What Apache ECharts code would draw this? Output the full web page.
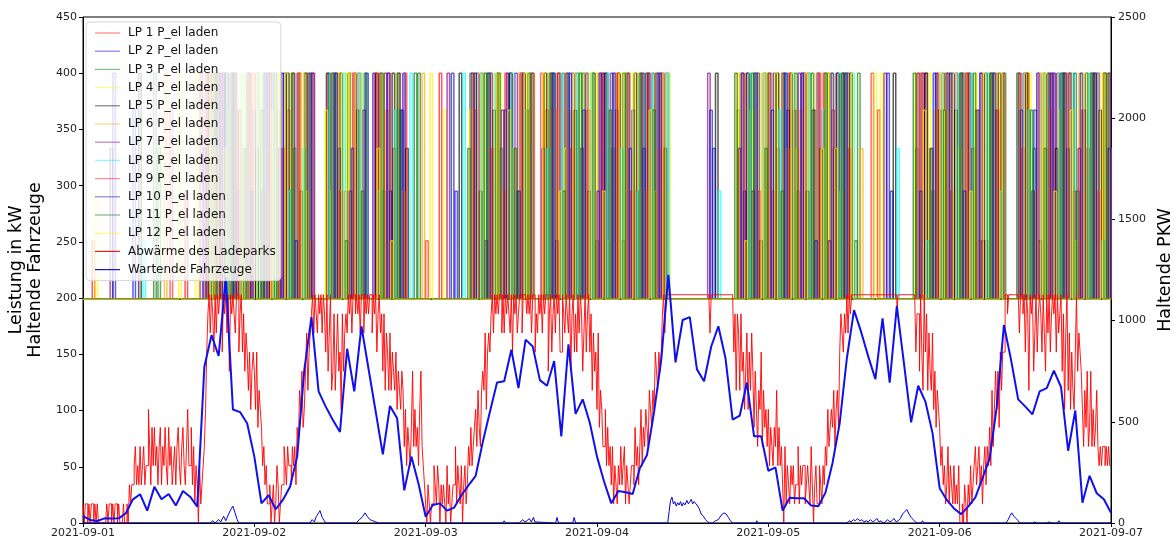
<!DOCTYPE html>
<html>
<head>
<meta charset="utf-8">
<script src="https://cdn.jsdelivr.net/npm/echarts@6.0.0/dist/echarts.min.js"></script>
<style>
  html, body { margin: 0; padding: 0; background: #fff; }
  #chart { width: 1174px; height: 544px; }
</style>
</head>
<body>
<div id="chart"></div>
<script>
// x-Achse: Stunden ab 2021-09-01 00:00
var tagLabels = ['2021-09-01', '2021-09-02', '2021-09-03', '2021-09-04', '2021-09-05', '2021-09-06', '2021-09-07']

var lpNamen = ['LP 1 P_el laden', 'LP 2 P_el laden', 'LP 3 P_el laden', 'LP 4 P_el laden',
  'LP 5 P_el laden', 'LP 6 P_el laden', 'LP 7 P_el laden', 'LP 8 P_el laden',
  'LP 9 P_el laden', 'LP 10 P_el laden', 'LP 11 P_el laden', 'LP 12 P_el laden']
var lpFarben = ['#ff0000', '#0000ff', '#008000', '#ffff00', '#000000', '#ffa500',
  '#800080', '#00ffff', '#ff2020', '#1010c0', '#107010', '#ffee00']

// Grundwert der Ladepunkte in kW, Spitzen als [Stunde, kW]
var lpBasis = 199
var spitzenDauer = 0.35
var lp1 = [[1.3,251],[14.3,295],[20.0,400],[24.2,400],[28.6,367],[34.3,400],[38.5,400],[43.4,333],[49.9,400],[55.6,400],[59.8,400],[64.8,367],[69.0,400],[73.2,400],[77.4,295],[81.6,400],[93.0,400],[97.2,333],[101.4,400],[105.6,400],[111.3,367],[118.0,400],[122.2,400],[126.4,251],[132.2,400],[136.4,400],[140.6,333],
  [18.1,400],[22.4,333],[26.7,400],[31.0,400],[36.6,295],[41.5,400],[57.9,400],[62.1,367],[67.1,400],[71.3,400],[75.5,251],[79.7,400],[95.3,400],[99.5,367],[103.7,400],[120.3,400],[124.5,333],[128.7,400],[134.5,400],[138.7,295],[142.9,400]]
var lp2 = [[7.0,367],[17.2,400],[21.5,295],[25.8,400],[30.0,400],[35.7,333],[40.6,400],[44.8,400],[52.1,295],[57.0,400],[61.2,400],[66.2,251],[70.4,400],[74.6,367],[78.8,400],[88.2,333],[94.4,400],[98.6,367],[102.8,400],[107.0,400],[113.1,295],[119.4,400],[123.6,400],[127.8,367],[133.6,400],[137.8,333],[142.0,400],
  [19.5,400],[23.8,367],[28.1,400],[38.0,400],[42.9,295],[55.1,400],[59.3,400],[64.3,333],[68.5,400],[72.7,400],[76.9,367],[81.1,400],[92.5,295],[96.7,400],[100.9,400],[105.1,333],[117.5,400],[121.7,400],[125.9,251],[131.7,400],[135.9,400],[140.1,367]]
var lp3 = [[10.5,333],[18.6,400],[22.9,400],[27.2,367],[31.5,400],[37.1,400],[42.0,295],[46.9,400],[54.2,400],[58.4,333],[62.6,400],[67.6,400],[71.8,251],[76.0,400],[80.2,400],[91.6,367],[95.8,400],[100.0,295],[104.2,400],[108.5,400],[116.6,333],[120.8,400],[125.0,367],[130.8,400],[135.0,400],[139.2,295],[143.4,400],
  [21.0,400],[25.2,400],[29.5,333],[35.2,400],[39.4,400],[44.3,367],[56.5,400],[60.7,295],[65.7,400],[69.9,400],[74.1,333],[78.3,400],[93.9,400],[98.1,400],[102.3,367],[106.5,400],[118.9,295],[123.1,400],[127.3,400],[133.1,333],[137.3,400],[141.5,400]]
var lp4 = [[1.7,295],[15.8,400],[20.4,367],[24.7,400],[29.0,400],[34.6,295],[38.8,400],[43.8,400],[50.5,367],[56.0,400],[60.2,333],[65.1,400],[69.3,400],[73.5,251],[77.7,400],[81.9,400],[93.4,367],[97.6,400],[101.8,400],[106.0,295],[111.7,400],[118.4,400],[122.6,333],[126.8,400],[132.5,400],[136.7,367],[140.9,400],
  [18.5,333],[22.7,400],[27.0,400],[31.3,295],[36.9,400],[41.9,400],[54.1,367],[58.3,400],[62.5,400],[67.4,333],[71.6,400],[75.8,400],[80.0,295],[91.5,400],[95.7,400],[99.9,333],[104.1,400],[116.5,400],[120.7,367],[124.9,400],[134.8,400],[139.0,251],[143.2,400]]
var lp5 = [[7.8,400],[17.6,400],[21.8,367],[26.1,400],[30.4,295],[36.0,400],[41.0,400],[45.2,333],[52.7,400],[57.4,367],[61.6,400],[66.5,400],[70.7,295],[74.9,400],[79.1,400],[88.6,400],[94.8,251],[99.0,400],[103.2,333],[107.4,400],[113.5,400],[119.8,367],[124.0,400],[128.2,400],[133.9,251],[138.1,400],[142.3,367],
  [19.9,400],[24.2,333],[28.5,400],[34.1,400],[38.3,367],[43.3,400],[55.5,295],[59.7,400],[64.6,400],[68.8,367],[73.0,400],[77.2,400],[81.4,333],[92.9,400],[97.1,400],[101.3,295],[105.5,400],[117.9,400],[122.1,367],[126.3,400],[132.0,400],[136.2,333],[140.4,400]]
var lp6 = [[11.4,400],[19.0,295],[23.3,400],[27.5,400],[31.8,251],[37.4,400],[42.4,367],[47.5,400],[54.6,400],[58.8,295],[62.9,400],[67.9,367],[72.1,400],[76.3,400],[80.5,333],[92.0,400],[96.2,400],[100.4,367],[104.6,400],[108.9,333],[117.0,400],[121.2,400],[125.4,251],[131.1,400],[135.3,367],[139.5,400],[143.7,333],
  [17.1,400],[21.3,400],[25.6,333],[29.9,400],[35.5,400],[44.7,295],[56.9,400],[61.1,400],[66.0,367],[70.2,400],[74.4,400],[78.6,295],[94.3,400],[98.5,333],[102.7,400],[106.9,400],[119.3,367],[123.5,400],[127.7,400],[133.4,295],[137.6,400],[141.8,400]]
var lp7 = [[3.8,333],[16.4,400],[20.8,400],[25.0,295],[29.3,400],[35.0,400],[39.2,367],[44.1,400],[51.0,400],[56.3,251],[60.5,400],[65.5,400],[69.7,333],[73.9,400],[78.1,400],[87.5,400],[93.7,295],[97.9,400],[102.1,367],[106.3,400],[112.2,400],[118.7,333],[122.9,400],[127.1,400],[132.9,295],[137.1,400],[141.3,400],
  [18.8,400],[23.1,400],[27.4,333],[31.7,400],[37.3,295],[42.2,400],[54.4,400],[58.6,367],[62.8,400],[67.8,400],[72.0,295],[76.2,400],[80.4,400],[91.8,333],[96.0,400],[100.2,400],[104.4,251],[116.8,400],[121.0,400],[125.2,367],[131.0,400],[135.2,400],[139.4,333],[143.6,400]]
var lp8 = [[8.4,251],[17.9,367],[22.2,400],[26.5,400],[30.8,333],[36.4,400],[41.3,295],[45.8,400],[53.2,400],[57.7,400],[61.9,367],[66.9,400],[71.1,400],[75.3,333],[79.5,400],[89.0,295],[95.1,400],[99.3,400],[103.5,367],[107.7,400],[114.0,333],[120.1,400],[124.3,400],[128.5,295],[134.3,400],[138.5,400],[142.7,251],
  [20.2,400],[24.4,400],[28.8,295],[34.5,400],[38.7,400],[43.6,367],[55.8,400],[60.0,400],[65.0,333],[69.2,400],[73.4,400],[77.6,295],[81.8,400],[93.2,400],[97.4,367],[101.6,400],[105.8,400],[118.2,251],[122.4,400],[126.6,400],[132.4,367],[136.6,400],[140.8,400]]
var lp9 = [[12.2,367],[19.3,400],[23.6,400],[27.9,333],[32.1,400],[37.8,400],[42.7,400],[48.0,251],[54.9,367],[59.1,400],[64.1,400],[68.3,333],[72.5,400],[76.7,295],[80.9,400],[92.3,400],[96.5,295],[100.7,400],[104.9,367],[110.4,400],[117.3,400],[121.5,295],[125.7,400],[131.5,333],[135.7,400],[139.9,367],
  [17.4,400],[21.7,367],[26.0,400],[30.2,400],[35.9,295],[40.8,400],[45.0,400],[57.2,333],[61.4,400],[66.4,400],[70.6,367],[74.8,400],[79.0,400],[94.6,295],[98.8,400],[103.0,400],[107.2,333],[119.6,400],[123.8,400],[128.0,367],[133.8,400],[138.0,400],[142.2,295]]
var lp10 = [[4.2,400],[16.9,333],[21.1,400],[25.4,400],[29.7,251],[35.3,400],[39.6,400],[44.5,367],[51.6,400],[56.7,400],[60.9,295],[65.8,400],[70.0,367],[74.2,400],[78.4,333],[87.8,367],[94.1,400],[98.3,400],[102.5,251],[106.7,400],[112.6,400],[119.1,400],[123.3,295],[127.5,400],[133.2,367],[137.4,400],[141.6,400],
  [19.2,400],[23.5,295],[27.7,400],[32.0,400],[37.6,333],[42.6,400],[54.8,400],[59.0,367],[68.1,400],[72.3,400],[76.5,333],[80.7,400],[92.2,400],[96.4,367],[100.6,400],[104.8,400],[117.2,295],[121.4,400],[125.6,400],[131.3,367],[135.5,400],[139.7,400],[143.6,333]]
var lp11 = [[9.9,400],[18.3,400],[22.5,333],[26.8,400],[31.1,400],[36.7,251],[41.7,400],[46.4,400],[53.9,333],[58.1,400],[62.3,400],[67.2,295],[71.4,400],[75.6,400],[79.8,367],[91.3,400],[95.5,333],[99.7,400],[103.9,400],[108.1,251],[116.3,400],[120.5,367],[124.7,400],[128.9,400],[134.6,333],[138.8,400],[143.0,400],
  [20.6,400],[24.9,367],[29.2,400],[34.8,400],[39.0,295],[44.0,400],[56.2,400],[60.4,333],[65.3,400],[69.5,400],[73.7,367],[77.9,400],[93.6,400],[97.8,295],[102.0,400],[106.2,400],[118.6,333],[122.8,400],[127.0,400],[132.7,367],[136.9,400],[141.1,400]]
var lp12 = [[13.4,400],[19.7,333],[24.0,400],[28.3,400],[33.9,367],[38.1,400],[43.1,251],[48.6,400],[55.3,400],[59.5,367],[64.4,400],[68.6,400],[72.8,295],[77.0,400],[81.2,400],[92.7,251],[96.9,400],[101.1,400],[105.3,333],[110.8,400],[117.7,367],[121.9,400],[126.1,400],[131.8,400],[136.0,295],[140.2,400],
  [17.8,400],[22.0,400],[26.3,367],[30.6,400],[36.2,400],[41.2,333],[57.6,400],[61.8,400],[66.7,295],[70.9,400],[75.1,400],[79.3,367],[95.0,400],[99.2,400],[103.4,333],[107.6,400],[120.0,400],[124.2,295],[128.4,400],[134.1,400],[138.3,367],[142.5,400]]
var lpSpitzen = [lp1, lp2, lp3, lp4, lp5, lp6, lp7, lp8, lp9, lp10, lp11, lp12]

// Abwärme des Ladeparks in kW, Werte alle 10 Minuten (eine Zeile = 2 Stunden)
var abwaermeSchritt = 1 / 6
var abwaerme = [
  17,0,17,17,0,17, 0,17,17,0,17,0,
  17,0,0,0,0,0, 0,0,17,0,17,17,
  0,17,0,17,17,0, 17,0,0,0,17,0,
  0,17,0,34,17,34, 34,51,68,34,51,34,
  68,34,51,68,34,51, 51,101,68,34,85,51,
  85,51,68,34,68,85, 34,68,51,85,51,34,
  85,51,68,34,51,68, 34,68,85,51,34,68,
  85,51,34,68,101,51, 51,85,34,68,17,51,
  34,0,51,17,34,51, 68,101,152,186,203,169,
  203,186,152,203,169,203, 186,203,203,152,203,186,
  203,169,203,135,203,186, 203,186,169,203,203,152,
  186,203,152,186,135,169, 152,118,152,101,135,152,
  135,101,152,85,118,101, 85,51,68,34,51,17,
  17,34,0,17,34,0, 17,51,34,0,17,34,
  34,68,51,34,68,51, 51,34,68,51,68,34,
  85,68,118,101,135,85, 101,135,169,118,152,169,
  186,203,169,203,186,169, 203,186,203,169,203,186,
  152,203,135,169,203,118, 135,186,118,152,186,135,
  152,101,186,135,169,186, 169,203,186,203,169,203,
  203,186,203,186,203,169, 203,203,169,203,186,203,
  186,203,203,169,203,186, 203,152,186,203,169,186,
  135,186,118,169,152,118, 169,118,152,135,118,152,
  101,135,118,101,135,118, 68,101,51,85,68,51,
  85,135,68,101,68,85, 51,101,135,68,51,34,
  17,0,34,17,0,17, 17,51,34,17,51,34,
  0,34,17,34,17,0, 51,17,34,0,17,34,
  34,68,17,51,34,17, 51,0,34,51,17,34,
  68,51,85,51,68,85, 101,68,118,85,68,118,
  135,118,169,101,152,169, 152,186,203,169,203,186,
  203,186,203,203,169,203, 169,203,186,203,186,169,
  203,152,203,186,203,169, 186,203,203,169,203,203,
  203,186,203,186,203,169, 203,203,152,186,169,203,
  186,203,169,203,186,203, 203,135,186,203,152,186,
  203,169,203,186,203,152, 152,203,186,169,203,186,
  169,203,135,186,203,152, 186,152,203,169,203,186,
  135,169,203,152,186,203, 152,186,118,169,135,152,
  101,169,85,118,101,68, 68,101,51,85,51,68,
  34,68,17,51,34,17, 51,34,68,34,51,68,
  17,51,34,17,34,51, 51,34,85,51,68,34,
  68,101,51,85,68,101, 85,68,118,101,85,118,
  101,152,135,118,152,135, 152,186,203,169,203,203,
  203,203,203,203,203,203, 203,203,203,203,203,203,
  203,203,203,203,203,203, 203,203,203,203,203,203,
  203,203,203,203,203,203, 203,203,203,203,203,169,
  203,203,203,203,203,203, 203,203,203,203,203,203,
  203,203,203,203,203,203, 203,152,186,118,186,169,
  118,186,135,152,101,135, 169,101,152,118,169,135,
  85,135,101,68,118,101, 152,68,118,85,101,68,
  101,51,85,68,51,85, 68,118,51,85,51,68,
  34,0,68,17,51,34, 17,51,34,51,17,34,
  34,68,17,51,34,51, 51,17,34,51,34,17,
  68,34,0,34,51,17, 17,51,34,17,51,34,
  68,51,101,68,85,101, 85,118,68,101,118,85,
  152,186,169,152,186,169, 203,169,203,186,203,203,
  203,203,203,203,203,203, 203,203,203,203,203,203,
  203,203,203,203,203,203, 203,203,203,203,203,203,
  203,203,203,203,203,203, 203,203,203,203,203,203,
  186,203,203,203,203,203, 203,203,203,203,203,203,
  203,203,203,203,152,186, 186,135,203,152,118,203,
  152,186,118,169,135,118, 169,101,135,85,118,101,
  85,51,68,34,51,17, 34,68,17,51,34,17,
  51,17,34,17,51,0, 0,17,0,34,17,0,
  34,17,51,17,34,51, 68,34,51,68,34,51,
  17,51,68,34,68,51, 85,51,118,68,101,135,
  101,135,85,152,118,152, 152,203,203,186,203,203,
  203,203,203,203,203,203, 203,169,203,203,186,203,
  152,203,186,118,203,186, 203,135,169,203,152,186,
  203,186,152,203,169,135, 203,169,203,152,186,203,
  186,203,152,203,169,186, 203,135,186,101,169,203,
  118,169,101,152,118,101, 152,203,135,169,152,135,
  101,68,118,85,135,68, 85,135,68,101,68,85,
  118,68,51,68,51,68, 68,51,68,51,68,51,
  51
]

// Wartende Fahrzeuge [Stunde, Anzahl]
var wartende = [[0,0],[17.8,0],[18.2,2],[18.5,0],[19,3],[19.3,1],[19.7,6],[20,2],[20.4,8],[20.7,12],[21,15],[21.3,9],[21.6,3],[21.8,0],
  [31.8,0],[32.1,3],[32.4,1],[32.7,6],[33,9],[33.2,11],[33.5,5],[33.8,2],[34,0],
  [38.3,0],[38.7,3],[39.1,5],[39.5,9],[39.8,6],[40.2,3],[40.6,2],[41,1],[41.4,0],
  [58.8,0],[59,2],[59.2,0],[61.1,0],[61.3,1],[61.6,3],[61.9,1],[62.2,2],[62.5,4],[62.8,1],[63,0],[63.1,5],[63.3,1],[63.5,0],
  [66.2,0],[66.4,5],[66.6,0],[68.6,0],[68.8,5],[69,0],
  [81.9,0],[82.1,10],[82.3,20],[82.5,23],[82.7,17],[82.9,19],[83.1,15],[83.3,18],[83.5,16],[83.7,19],[83.9,15],[84.1,18],[84.3,16],[84.6,20],[84.8,17],[85,19],[85.2,21],[85.4,17],[85.6,19],[85.8,20],[86,16],[86.3,13],[86.6,8],[86.9,6],[87.2,3],[87.5,1],[87.8,0],
  [88.2,0],[88.6,2],[89,3],[89.4,7],[89.8,9],[90.1,8],[90.4,5],[90.7,2],[91,0],
  [94.3,0],[94.4,2],[94.5,0],
  [107,0],[107.3,2],[107.6,1],[107.9,3],[108.2,2],[108.5,4],[108.8,2],[109.1,3],[109.4,1],[109.7,2],[110,1],[110.3,3],[110.6,1],[110.9,2],[111.2,4],[111.5,1],[111.8,2],[112.1,0],[112.4,1],[112.7,3],[113,1],[113.3,2],[113.6,4],[113.9,1],[114.2,2],[114.5,4],[114.8,8],[115.1,10],[115.4,12],[115.7,8],[116,5],[116.3,3],[116.6,1],[116.9,0],
  [117.4,0],[117.6,2],[117.8,0],
  [129.3,0],[129.6,3],[129.9,7],[130.1,9],[130.4,6],[130.7,4],[131,2],[131.2,0],
  [133,0],[133.3,1],[133.6,0],[135,0],[135.3,1],[135.6,0],[136.5,0],[136.7,2],[136.9,0],[144,0]]

// Haltende PKW (rechte Achse), stündlich
var haltendePKW = [
  34, 15, 10, 23, 22, 23, 48, 117, 142, 61, 179, 117,
  143, 86, 158, 130, 81, 772, 928, 825, 1214, 561, 548, 492,
  328, 97, 137, 68, 114, 179, 328, 756, 1017, 650, 575, 509,
  450, 861, 650, 972, 761, 550, 339, 578, 517, 161, 328, 194,
  31, 89, 97, 61, 76, 137, 186, 233, 400, 550, 694, 700,
  856, 667, 906, 872, 706, 678, 800, 428, 883, 539, 611, 494,
  328, 204, 97, 158, 152, 143, 270, 336, 550, 806, 1226, 794,
  1003, 1017, 759, 700, 872, 972, 814, 511, 531, 694, 428, 428,
  258, 275, 61, 125, 122, 122, 86, 83, 150, 298, 494, 814,
  1052, 944, 822, 711, 1011, 694, 1072, 789, 497, 678, 600, 444,
  172, 114, 72, 44, 81, 127, 221, 319, 575, 978, 806, 611,
  575, 537, 650, 666, 753, 672, 357, 556, 100, 233, 147, 117,
  51
]

var chart = echarts.init(document.getElementById('chart'))
var schrift = 'DejaVu Sans'

var series = []
lpSpitzen.forEach(function(spitzen, i) {
  var sortiert = spitzen.slice().sort(function(a, b) { return a[0] - b[0] })
  var daten = [[0, lpBasis]]
  sortiert.forEach(function(s) {
    daten.push([s[0], lpBasis], [s[0], s[1]], [s[0] + spitzenDauer, s[1]], [s[0] + spitzenDauer, lpBasis])
  })
  daten.push([144, lpBasis])
  series.push({
    name: lpNamen[i],
    type: 'line',
    data: daten,
    symbol: 'none',
    lineStyle: { width: 1.5, color: lpFarben[i], opacity: 0.65 },
    itemStyle: { color: lpFarben[i], opacity: 0.5 }
  })
})

series.push({
  name: 'Abwärme des Ladeparks',
  type: 'line',
  step: 'end',
  data: abwaerme.map(function(v, i) { return [i * abwaermeSchritt, v] }),
  symbol: 'none',
  lineStyle: { width: 0.9, color: '#ff0000' },
  itemStyle: { color: '#e8201e' }
})

series.push({
  name: 'Wartende Fahrzeuge',
  type: 'line',
  data: wartende,
  symbol: 'none',
  lineStyle: { width: 1, color: '#0000dd' },
  itemStyle: { color: '#1a1ab8' }
})

series.push({
  name: 'Haltende PKW',
  type: 'line',
  yAxisIndex: 1,
  data: haltendePKW.map(function(v, i) { return [i, v] }),
  symbol: 'none',
  lineStyle: { width: 2, color: '#1010ee' },
  itemStyle: { color: '#1010ee' },
  z: 3
})

var achsenText = { color: '#222', fontSize: 11, fontFamily: schrift }

var option = {
  animation: false,
  backgroundColor: '#fff',
  grid: {
    left: 83, right: 63, top: 17, bottom: 21,
    show: true, borderColor: '#000', borderWidth: 1,
    containLabel: false, outerBoundsMode: 'none'
  },
  legend: {
    data: lpNamen.concat(['Abwärme des Ladeparks', 'Wartende Fahrzeuge']),
    orient: 'vertical',
    left: 86,
    top: 22,
    icon: 'rect',
    itemWidth: 25,
    itemHeight: 1.2,
    itemGap: 4.2,
    selectedMode: false,
    backgroundColor: 'rgba(255,255,255,0.8)',
    borderColor: '#d6d6d6',
    borderWidth: 1,
    borderRadius: 4,
    padding: [4, 5, 4, 9],
    textStyle: { color: '#111', fontSize: 12, fontFamily: schrift, lineHeight: 14, padding: [0, 0, 0, 3] }
  },
  xAxis: {
    type: 'value',
    min: 0,
    max: 144,
    interval: 24,
    axisLine: { show: true, lineStyle: { color: '#000', width: 1 } },
    axisTick: { show: true, length: 4, lineStyle: { color: '#000' } },
    axisLabel: Object.assign({ margin: 5, formatter: function(v) { return tagLabels[Math.round(v / 24)] } }, achsenText),
    splitLine: { show: false }
  },
  yAxis: [
    {
      type: 'value',
      min: 0,
      max: 450,
      interval: 50,
      name: 'Leistung in kW\nHaltende Fahrzeuge',
      nameLocation: 'middle',
      nameGap: 31,
      nameTextStyle: { color: '#000', fontSize: 17.5, fontFamily: schrift, lineHeight: 19 },
      axisLine: { show: true, lineStyle: { color: '#000', width: 1 } },
      axisTick: { show: true, length: 4, lineStyle: { color: '#000' } },
      axisLabel: Object.assign({ margin: 6 }, achsenText),
      splitLine: { show: false }
    },
    {
      type: 'value',
      position: 'right',
      min: 0,
      max: 2500,
      interval: 500,
      name: 'Haltende PKW',
      nameLocation: 'middle',
      nameRotate: 90,
      nameGap: 38,
      nameTextStyle: { color: '#000', fontSize: 17.5, fontFamily: schrift },
      axisLine: { show: true, lineStyle: { color: '#000', width: 1 } },
      axisTick: { show: true, length: 4, lineStyle: { color: '#000' } },
      axisLabel: Object.assign({ margin: 7, formatter: function(v) { return String(v) } }, achsenText),
      splitLine: { show: false }
    }
  ],
  series: series
}

chart.setOption(option)
</script>
</body>
</html>
